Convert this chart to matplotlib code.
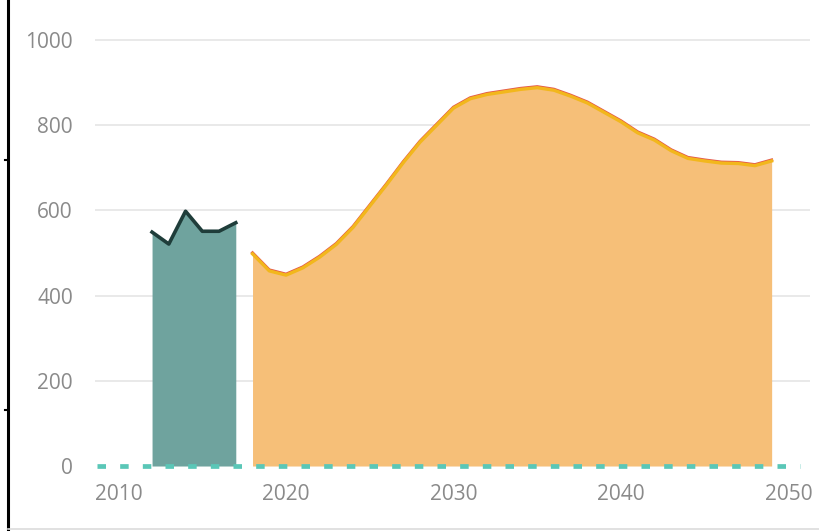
import matplotlib.pyplot as plt
import matplotlib.transforms as mtransforms
from matplotlib.lines import Line2D

# historic values (teal)
hist_years = [2012, 2013, 2014, 2015, 2016, 2017]
hist_values = [549, 521, 598, 551, 551, 571]

# projection (orange)
proj_years = list(range(2018, 2050))
proj_values = [498, 458, 448, 465, 490, 520, 560, 610, 660, 712, 760, 800,
               840, 862, 872, 878, 884, 888, 882, 868, 852, 830, 808, 782,
               765, 740, 722, 716, 711, 710, 705, 716]

zero_years = [2008.7, 2050.7]
zero_values = [0, 0]

yticks = [0, 200, 400, 600, 800, 1000]
xticks = [2010, 2020, 2030, 2040, 2050]

plt.rcParams['font.family'] = ['Open Sans', 'DejaVu Sans']

fig = plt.figure(figsize=(8.2, 5.31), dpi=100)
ax = fig.add_axes([0.116, 0.0983, 0.872, 0.8746])

for v in yticks[1:]:
    ax.axhline(v, color='#e9e9e9', lw=1.4, zorder=0)

ax.fill_between(hist_years, hist_values, 0, color='#6fa39e', lw=0, zorder=2)
ax.plot(hist_years, hist_values, color='#1f3d3a', lw=2.6, zorder=3)

ax.fill_between(proj_years, proj_values, 0, color='#f6bf78', lw=0, zorder=2)
up = mtransforms.offset_copy(ax.transData, fig=fig, x=0, y=1, units='dots')
ax.plot(proj_years, proj_values, color='#e4574c', lw=2.2, transform=up, zorder=3)
ax.plot(proj_years, proj_values, color='#f2b71c', lw=2.4, zorder=4)

ax.plot(zero_years, zero_values, color='#5ac7b7', lw=3.4,
        linestyle=(0, (1.8, 3.0)), solid_capstyle='butt', zorder=5)

ax.set_xlim(2008.6, 2051.3)
ax.set_ylim(-30, 1060)
ax.set_xticks(xticks)
ax.set_yticks(yticks)
ax.tick_params(axis='both', length=0, labelsize=15, colors='#8a8a8a')
ax.tick_params(axis='y', pad=16)
ax.tick_params(axis='x', pad=4)
for s in ax.spines.values():
    s.set_visible(False)

# screenshot frame bits
fig.add_artist(Line2D([8 / 820, 8 / 820], [0, 1], color='black', lw=2.2))
for yp in (160, 410):
    fig.add_artist(Line2D([5 / 820, 8 / 820], [1 - yp / 531] * 2, color='black', lw=1.5))
fig.add_artist(Line2D([8 / 820, 1], [1 - 529 / 531] * 2, color='#dcdcdc', lw=1.2))

fig.savefig('out.png', dpi=100)
